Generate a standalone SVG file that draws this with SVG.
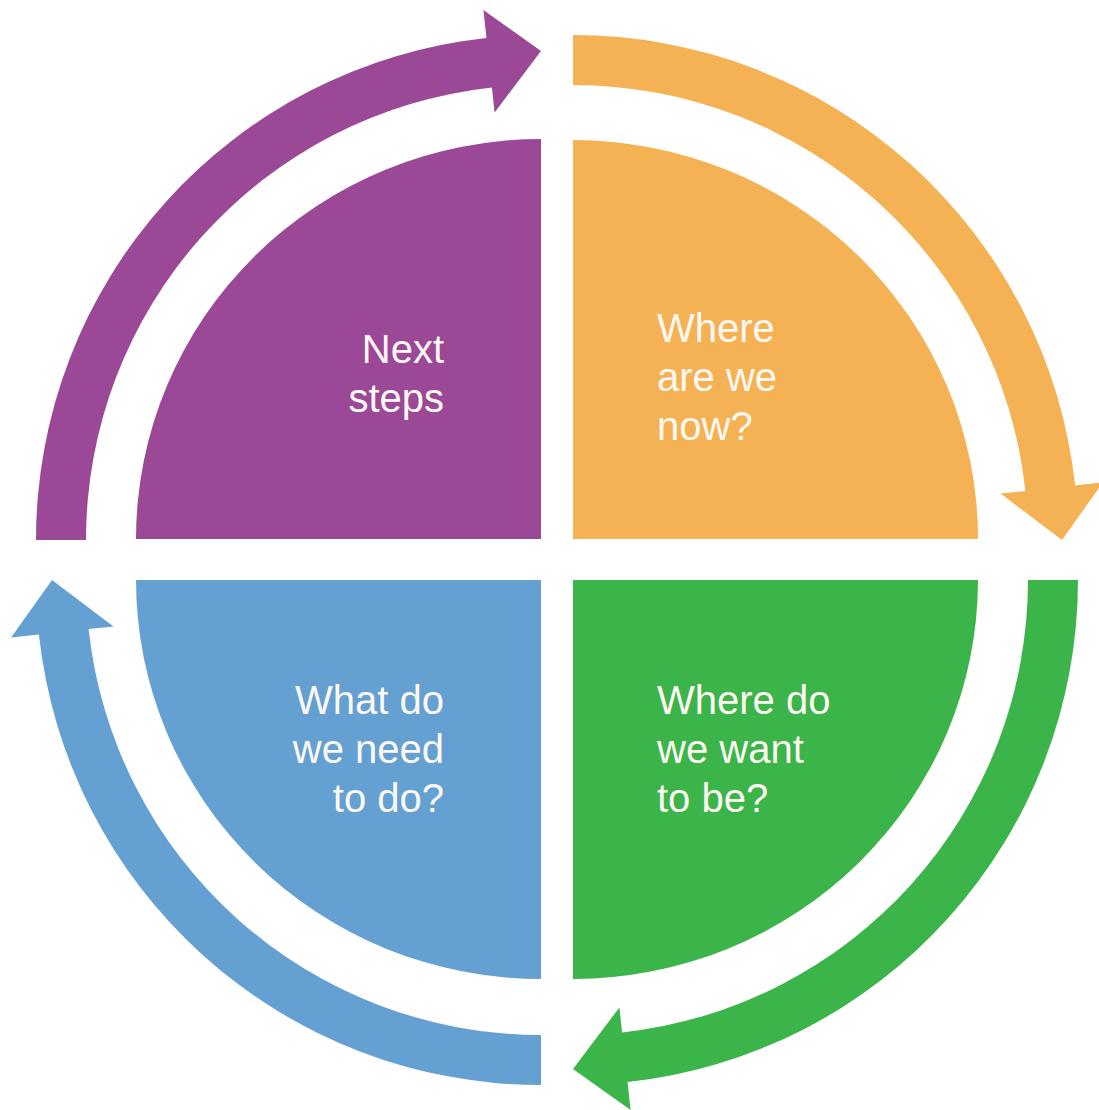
<svg xmlns="http://www.w3.org/2000/svg" width="1099" height="1110" viewBox="0 0 1099 1110">
  <style>
    .lbl { font-family: "Liberation Sans", Arial, sans-serif; font-size: 40px; fill: #fdf8f2; }
    .end { text-anchor: end; }
    .purple { fill: #9B4896; }
    .orange { fill: #F5B254; }
    .green { fill: #3BB44A; }
    .blue { fill: #64A1D2; }
  </style>
  <rect width="1099" height="1110" fill="#ffffff"/>
  <g id="connectors">
    <path id="arrow-purple" class="purple" d="M36,540 A505,505 0 0 1 486.5,37.9 L483.4,10.1 L541,51 L494.6,112.5 L491.9,87.6 A455,455 0 0 0 86,540 Z"/>
    <path id="arrow-orange" class="orange" d="M573,35 A505,505 0 0 1 1075.1,485.5 L1102.9,482.4 L1062,540 L1000.5,493.6 L1025.4,490.9 A455,455 0 0 0 573,85 Z"/>
    <path id="arrow-green" class="green" d="M1078,580 A505,505 0 0 1 627.5,1082.1 L630.6,1109.9 L573,1069 L619.4,1007.5 L622.1,1032.4 A455,455 0 0 0 1028,580 Z"/>
    <path id="arrow-blue" class="blue" d="M541,1085 A505,505 0 0 1 38.9,634.5 L11.1,637.6 L52,580 L113.5,626.4 L88.6,629.1 A455,455 0 0 0 541,1035 Z"/>
  </g>
  <g id="node-next-steps">
    <path class="purple" d="M541,539 L136,539 A405,400 0 0 1 541,139 Z"/>
    <text class="lbl end" x="444" y="363">Next</text>
    <text class="lbl end" x="444" y="412">steps</text>
  </g>
  <g id="node-where-now">
    <path class="orange" d="M573,539 L573,140 A405,399 0 0 1 978,539 Z"/>
    <text class="lbl" x="657" y="342">Where</text>
    <text class="lbl" x="657" y="391">are we</text>
    <text class="lbl" x="657" y="440">now?</text>
  </g>
  <g id="node-where-want">
    <path class="green" d="M573,580 L978,580 A405,399 0 0 1 573,979 Z"/>
    <text class="lbl" x="657" y="714">Where do</text>
    <text class="lbl" x="657" y="763">we want</text>
    <text class="lbl" x="657" y="812">to be?</text>
  </g>
  <g id="node-what-do">
    <path class="blue" d="M541,580 L541,979 A405,399 0 0 1 136,580 Z"/>
    <text class="lbl end" x="444" y="714">What do</text>
    <text class="lbl end" x="444" y="763">we need</text>
    <text class="lbl end" x="444" y="812">to do?</text>
  </g>
</svg>
